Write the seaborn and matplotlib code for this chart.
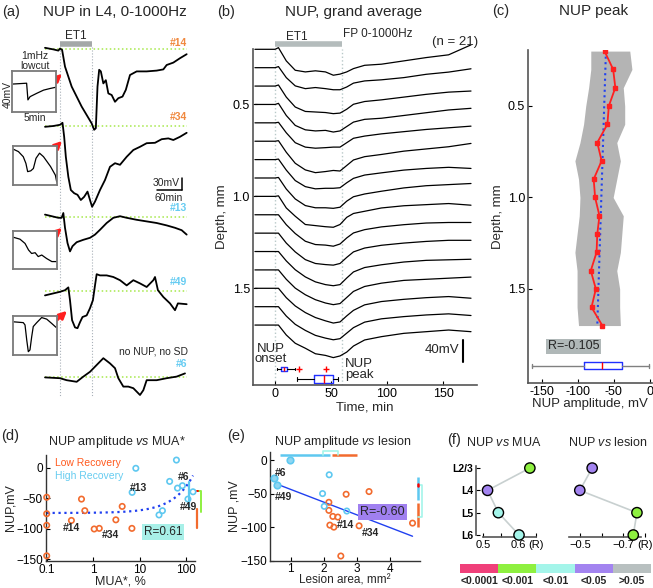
import numpy as np
import pandas as pd
import seaborn as sns
import matplotlib.pyplot as plt

sns.set_style('ticks')
plt.rcParams['font.family'] = ['Liberation Sans', 'DejaVu Sans']
plt.rcParams['mathtext.fontset'] = 'custom'
plt.rcParams['mathtext.rm'] = 'Liberation Sans'
plt.rcParams['mathtext.it'] = 'Liberation Sans:italic'

# ---------------- data ----------------
# (a) single experiments, time in min, potential in mV (relative to baseline)
a14_t = [-36, -16, -4, 0, 5, 12, 20, 28, 40, 52, 64, 76, 82, 86, 90, 94, 98, 104, 110, 116,
         124, 132, 140, 150, 158, 168, 184, 208, 232, 248, 256, 272, 288, 304]
a14_v = [3, -1, -4, 1, -2, -44, -69, -94, -119, -144, -165, -186, -202, -198, -94, -52, -56, -86, -78, -111,
         -115, -132, -123, -119, -102, -65, -56, -56, -54, -51, -40, -34, -23, -13]
a34_t = [-36, -16, 0, 6, 10, 14, 20, 26, 34, 42, 50, 58, 66, 72, 77, 84, 96, 108, 120, 132,
         144, 160, 176, 192, 208, 228, 244, 260, 272, 288, 304]
a34_v = [-2, 0, 3, 8, -27, -77, -127, -160, -168, -172, -185, -177, -164, -185, -202, -189, -160, -135, -102, -93,
         -97, -77, -60, -52, -43, -42, -33, -31, -35, -27, -17]
a13_t = [-36, -20, -4, 4, 8, 12, 18, 24, 30, 40, 56, 72, 84, 96, 112, 128, 144, 160, 184, 208,
         232, 256, 276, 292, 304]
a13_v = [6, 2, -2, -2, 10, -27, -65, -86, -73, -63, -57, -52, -44, -32, -15, -2, 2, -2, -7, -11,
         -15, -21, -27, -33, -44]
a49_t = [-36, -16, 0, 12, 20, 24, 29, 36, 42, 48, 54, 64, 72, 79, 84, 88, 96, 112, 128, 144,
         160, 176, 192, 208, 224, 228, 235, 248, 264, 276, 283, 304]
a49_v = [-11, -6, -2, 2, 9, -23, -73, -91, -93, -78, -65, -61, -43, -23, 14, 42, 39, 39, 35, 27,
         14, 27, 19, 10, 27, 35, 2, -15, -31, -48, -31, -33]
a6_t = [-36, 0, 16, 40, 56, 72, 88, 104, 120, 132, 140, 152, 164, 176, 192, 200, 208, 232, 256, 280, 300]
a6_v = [-1, -3, -8, -12, 1, 13, 30, 47, 34, 22, -3, -24, -24, -28, -45, -33, -8, -8, -3, 1, 9]
a_labels = ['#14', '#34', '#13', '#49', '#6']
a_recovery = ['low', 'low', 'high', 'high', 'high']
a_et1 = [0, 77.5]

# (a) insets, 1 mHz low-cut, 5 min x 40 mV boxes
in1_t = [0.1, 1.65, 1.8, 2.05, 2.8, 3.6, 4.35, 5.0]
in1_v = [7.2, 8, -8.4, -5.2, -2, 1.2, 2.8, 4]
in2_t = [0.08, 0.65, 1.2, 1.5, 1.7, 2.05, 2.35, 2.65, 3.05, 3.5, 4.3, 4.85, 5.0]
in2_v = [16.4, 14, 8.8, 2, -6.4, -5.6, -3.2, 7.2, 12.4, 8.8, -1.2, -10, -16.8]
in3_t = [0.08, 0.83, 1.4, 1.8, 2.15, 2.55, 2.9, 3.3, 3.85, 4.45, 5.0]
in3_v = [13.2, 11.2, 6.8, 0, -3.6, -2.8, -6.8, -5.2, -8.8, -12, -12]
in4_t = [0.08, 1.15, 1.35, 1.55, 1.73, 1.92, 2.12, 2.3, 2.7, 3.27, 3.85, 4.42, 4.92]
in4_v = [14, 13.2, 10.8, -4.8, -16.6, -14.8, -1.2, 9.2, 13.2, 18.4, 16.8, 12.4, 8.4]

# (b) grand average FP at 16 depths (mV)
b_time = [-18, 0, 3, 10, 18, 27, 36, 45, 52, 58, 64, 70, 80, 95, 115, 135, 155, 175]
b_depths = [0.2, 0.3, 0.4, 0.5, 0.6, 0.7, 0.8, 0.9, 1.0, 1.1, 1.2, 1.3, 1.4, 1.5, 1.6, 1.7]
b_traces = [
    [0, 0, 3, -21, -38, -41, -39, -41, -47, -45, -41, -35, -29, -27, -21, -15, -10, 8],
    [0, 0, 2, -18, -33, -38, -36, -38, -40, -40, -35, -28, -24, -22, -18, -12, -8, -2],
    [0, 0, 2, -20, -38, -46, -47, -48, -50, -49, -42, -33, -28, -25, -20, -15, -11, -9],
    [0, 0, 2, -20, -38, -46, -48, -47, -50, -48, -40, -32, -27, -25, -20, -15, -10, -7],
    [0, 0, 1, -18, -36, -44, -46, -45, -44, -44, -36, -28, -24, -20, -16, -12, -9, -6],
    [0, 0, 1, -20, -40, -52, -57, -55, -53, -54, -44, -34, -28, -24, -18, -14, -10, -4],
    [0, 0, 1, -19, -38, -49, -53, -52, -52, -51, -42, -34, -28, -24, -19, -16, -14, -16],
    [0, 0, 1, -20, -38, -50, -54, -54, -55, -53, -42, -34, -29, -24, -18, -14, -12, -10],
    [0, 0, 1, -21, -36, -51, -53, -55, -56, -51, -38, -31, -27, -21, -17, -15, -13, -16],
    [0, 0, 0, -18, -34, -48, -54, -55, -57, -53, -42, -33, -27, -22, -18, -15, -14, -14],
    [0, 0, 0, -18, -34, -48, -55, -57, -58, -55, -44, -34, -27, -22, -18, -15, -13, -13],
    [0, 0, 0, -17, -33, -46, -55, -60, -62, -60, -48, -37, -29, -24, -19, -16, -15, -14],
    [0, 0, 0, -17, -33, -45, -54, -60, -63, -61, -50, -39, -30, -24, -19, -17, -15, -13],
    [0, 0, 0, -17, -32, -44, -53, -59, -63, -61, -50, -40, -30, -24, -20, -17, -15, -18],
    [0, 0, 0, -17, -32, -43, -52, -57, -60, -58, -48, -38, -28, -22, -18, -15, -13, -16],
    [0, 0, 0, -18, -33, -42, -52, -55, -59, -56, -49, -38, -27, -21, -15, -12, -9, -12],
]
b_onset = dict(whislo=2, q1=5.4, med=8, q3=11, whishi=18, fliers=[21, 45.5])
b_peak = dict(whislo=19.3, q1=35, med=43.8, q3=52, whishi=56.5, fliers=[])

# (c) NUP peak amplitude vs depth
c_peak = [-63, -51, -48, -57, -59, -73, -67, -78, -76, -70, -73, -74, -82, -75, -81, -66]
c_lower = [-82, -82, -85, -89, -92, -97, -104, -99, -97, -98, -101, -104, -101, -101, -101, -99]
c_upper = [-28, -25, -37, -35, -35, -46, -41, -46, -51, -37, -39, -41, -46, -42, -42, -41]
c_fit = [-61, -73]
c_box = dict(whislo=-163, q1=-92, med=-67, q3=-39, whishi=-1, fliers=[])

# (d) NUP amplitude vs MUA*
d_low_mua = [0.1, 0.56, 0.66, 0.1, 4.2, 0.34, 0.1, 1.05, 1.35, 3.07, 6.8, 0.1]
d_low_nup = [-48, -51, -70, -75, -63, -86, -94, -100, -99, -85, -99, -144]
d_high_mua = [8.25, 61.6, 44, 64.9, 82.8, 6.87, 109, 140, 30.8, 26]
d_high_nup = [-0.5, 13, -22, -33, -29, -40, -51, -39, -70, -77]

# (e) NUP amplitude vs lesion area
e_low_area = [2.15, 2.67, 3.36, 2.15, 2.27, 2.42, 2.18, 2.30, 3.06, 2.51, 4.67]
e_low_nup = [-63, -51, -47, -75, -84, -85, -97, -100, -98, -143, -94]
e_high_area = [0.50, 0.58, 0.98, 2.16, 1.96, 2.01, 2.69]
e_high_nup = [-27, -37, 0, -22, -50, -69, -76]
e_high_filled = [True, True, True, False, False, False, False]

# (f) layer-wise correlations
f_layers = ['L2/3', 'L4', 'L5', 'L6']
f_mua_r = [0.633, 0.512, 0.543, 0.602]
f_mua_p = ['<0.001', '<0.05', '<0.01', '<0.01']
f_les_r = [-0.557, -0.50, -0.763, -0.746]
f_les_p = ['<0.05', '<0.05', '<0.001', '<0.001']
p_classes = ['<0.0001', '<0.001', '<0.01', '<0.05', '>0.05']

# ---------------- style ----------------
W, H = 653, 588
ORANGE = '#f26b2e'
CYAN = '#5ec8f0'
FIT_BLUE = '#2040f0'
P_COLORS = {'<0.0001': '#f0407a', '<0.001': '#8ef040', '<0.01': '#a4f5ea',
            '<0.05': '#a384f0', '>0.05': '#b8c0c0'}
A_MIN_PER_PX = 2.4
A_MV_PER_PX = 2.5
B_MM_PER_MV = 0.003

fig = plt.figure(figsize=(W / 100, H / 100), dpi=100)


def px_axes(x0, y0, x1, y1):
    return fig.add_axes([x0 / W, 1 - y1 / H, (x1 - x0) / W, (y1 - y0) / H])


def ftext(x, y, s, **kw):
    kw.setdefault('ha', 'center')
    kw.setdefault('va', 'center')
    fig.text(x / W, 1 - y / H, s, **kw)


def style_axes(ax, color='#555555', lw=1.2):
    sns.despine(ax=ax)
    for side in ['left', 'bottom']:
        ax.spines[side].set_color(color)
        ax.spines[side].set_linewidth(lw)
    ax.tick_params(direction='in', length=3, width=0.8, labelsize=8, pad=2, colors='black')
    ax.set_facecolor('none')


# ---------------- (a) ----------------
ftext(2, 12, '(a)', fontsize=10.5, ha='left')
ftext(115, 12, 'NUP in L4, 0-1000Hz', fontsize=11)
ax_a = px_axes(40, 30, 195, 405)
ax_a.set_xlim(-20 * A_MIN_PER_PX, 135 * A_MIN_PER_PX)
ax_a.set_ylim(-405 * A_MV_PER_PX, -30 * A_MV_PER_PX)
ax_a.axis('off')

a_base_px = [49, 126, 217, 291, 377]
a_label_px = [43, 117, 208, 282, 364]
a_series = [(a14_t, a14_v), (a34_t, a34_v), (a13_t, a13_v), (a49_t, a49_v), (a6_t, a6_v)]
for (t, v), base, lab, rec, ly in zip(a_series, a_base_px, a_labels, a_recovery, a_label_px):
    off = -base * A_MV_PER_PX
    ax_a.plot([-36, 304], [off, off], color='#a6e84a', ls=':', lw=1.1, zorder=1)
    ax_a.plot(t, np.array(v) + off, color='black', lw=1.3, zorder=3)
    ftext(187, ly, lab, fontsize=7.5, weight='bold', ha='right',
          color='#f0883e' if rec == 'low' else '#66ccf2')
ftext(188, 352, 'no NUP, no SD', fontsize=7.5, ha='right')

for x in a_et1:
    ax_a.plot([x, x], [-47 * A_MV_PER_PX, -397 * A_MV_PER_PX], color='#a8b0b8', ls=':', lw=0.8, zorder=0)
ax_a.plot(a_et1, [-44 * A_MV_PER_PX] * 2, color='#a4a8a8', lw=4, solid_capstyle='butt')
ftext(76, 36, 'ET1', fontsize=8.5)

# scale bars 30 mV / 60 min
sb_x = (182 - 60) * A_MIN_PER_PX
sb_y = -190 * A_MV_PER_PX
ax_a.plot([sb_x, sb_x], [sb_y, sb_y + 30], color='black', lw=1.1)
ax_a.plot([sb_x - 60, sb_x], [sb_y, sb_y], color='black', lw=1.1)
ftext(180, 183, '30mV', fontsize=7.5, ha='right')
ftext(169, 198, '60min', fontsize=7.5)

# insets
inset_boxes = [(12.3, 71, 55.7, 111.7), (12.7, 145.7, 56.7, 185), (12.7, 230.7, 56.7, 269.3), (13.3, 316, 56.7, 355)]
inset_data = [(in1_t, in1_v), (in2_t, in2_v), (in3_t, in3_v), (in4_t, in4_v)]
for (x0, y0, x1, y1), (t, v) in zip(inset_boxes, inset_data):
    axi = px_axes(x0, y0, x1, y1)
    axi.plot(t, v, color='black', lw=0.9)
    axi.set_xlim(0, 5)
    axi.set_ylim(-20, 20)
    axi.set_xticks([])
    axi.set_yticks([])
    for sp in axi.spines.values():
        sp.set_visible(True)
        sp.set_color('#7a7a7a')
        sp.set_linewidth(1.3)
ftext(35, 61, '1mHz\nlowcut', fontsize=7.5, linespacing=0.95)
ftext(8, 95, '40mV', fontsize=7.5, rotation=90)
ftext(35, 118, '5min', fontsize=7.5)

a_arrows = [((51, 84), (64, 72)), ((51, 152), (64, 139)), ((51, 238), (64, 226)), ((55, 322), (69, 309))]
for (x0, y0), (x1, y1) in a_arrows:
    ax_a.annotate('', xy=(x1, H - y1), xytext=(x0, H - y0), xycoords='figure pixels',
                  textcoords='figure pixels',
                  arrowprops=dict(arrowstyle='-|>', color='#ff2020', lw=2.0, mutation_scale=11))

# ---------------- (b) ----------------
ftext(217, 12, '(b)', fontsize=10.5, ha='left')
ftext(354, 12, 'NUP, grand average', fontsize=11)
ax_b = px_axes(252.7, 49.3, 476.6, 385)
for depth, vals in zip(b_depths, b_traces):
    ax_b.plot(b_time, depth - np.array(vals) * B_MM_PER_MV, color='black', lw=0.9, clip_on=False)
for x in [0, 60]:
    ax_b.axvline(x, color='#b8c8c8', ls=':', lw=1.0, zorder=0)
ax_b.plot([0, 60], [0.172, 0.172], color='#b4bcbc', lw=4, solid_capstyle='butt', clip_on=False)
ax_b.text(19.6, 0.134, 'ET1', fontsize=8.5, ha='center', va='center')
ax_b.text(61, 0.118, 'FP 0-1000Hz', fontsize=8.5, ha='left', va='center')
ax_b.text(140, 0.161, '(n = 21)', fontsize=9.5, ha='left', va='center')
ax_b.plot([168, 168], [1.78, 1.78 + 40 * B_MM_PER_MV], color='black', lw=1.5)
ax_b.text(165, 1.838, '40mV', fontsize=9.5, ha='right', va='center')
for stats, pos, w in [(b_onset, 1.939, 0.027), (b_peak, 1.993, 0.04)]:
    ax_b.bxp([stats], positions=[pos], widths=w, orientation='horizontal', manage_ticks=False,
             boxprops=dict(color='#2030ff', lw=1), medianprops=dict(color='red', lw=1),
             whiskerprops=dict(color='black', lw=0.8), capprops=dict(color='black', lw=0.8),
             flierprops=dict(marker='+', markeredgecolor='red', markersize=4, lw=0))
ax_b.text(-3.5, 1.857, 'NUP\nonset', fontsize=9.5, ha='center', va='center', linespacing=0.85)
ax_b.text(62.5, 1.94, 'NUP\npeak', fontsize=9.5, ha='left', va='center', linespacing=0.85)
ax_b.set_xlim(-20, 180)
ax_b.set_ylim(2.026, 0.2)
style_axes(ax_b)
ax_b.set_xticks([0, 50, 100, 150])
ax_b.set_yticks([0.5, 1.0, 1.5])
ax_b.set_yticklabels(['0.5', '1.0', '1.5'])
ax_b.tick_params(labelsize=9)
ax_b.set_xlabel('Time, min', fontsize=9.5, labelpad=1)
ax_b.set_ylabel('Depth, mm', fontsize=9.5, labelpad=3)

# ---------------- (c) ----------------
ftext(492, 11, '(c)', fontsize=10.5, ha='left')
ftext(594, 11, 'NUP peak', fontsize=11)
ax_c = px_axes(528, 50, 651.7, 383)
ax_c.fill_betweenx(b_depths, c_lower, c_upper, color='#b4b4b4', lw=0)
ax_c.plot(c_fit, [b_depths[0], b_depths[-1]], ls=':', color=FIT_BLUE, lw=1.5, zorder=3)
ax_c.plot(c_peak, b_depths, color='#ff2020', lw=1.3, marker='s', markersize=3.5, zorder=4)
ax_c.bxp([c_box], positions=[1.92], widths=0.038, orientation='horizontal', manage_ticks=False,
         boxprops=dict(color='#2030ff', lw=1), medianprops=dict(color='red', lw=1),
         whiskerprops=dict(color='#808080', lw=1), capprops=dict(color='#808080', lw=1))
ax_c.text(-106, 1.814, 'R=-0.105', fontsize=9, ha='center', va='center',
          bbox=dict(boxstyle='square,pad=0.15', fc='#b0b8b8', ec='none'))
ax_c.set_xlim(-169, 2.4)
ax_c.set_ylim(2.014, 0.194)
style_axes(ax_c)
ax_c.set_xticks([-150, -100, -50, 0])
ax_c.set_xticklabels(['-150', '-100', '-50', '0'])
ax_c.set_yticks([0.5, 1.0, 1.5])
ax_c.set_yticklabels(['0.5', '1.0', '1.5'])
ax_c.tick_params(labelsize=9)
ax_c.set_xlabel('NUP amplitude, mV', fontsize=9.5, labelpad=0)
ax_c.set_ylabel('Depth, mm', fontsize=9.5, labelpad=3)

# ---------------- (d) ----------------
ftext(1, 436, '(d)', fontsize=10.5, ha='left')
ftext(117, 442, r'NUP amplitude $\it{vs}$ MUA*', fontsize=9)
ax_d = px_axes(45.7, 455, 195, 561)
d_df = pd.DataFrame({'mua': d_low_mua + d_high_mua, 'nup': d_low_nup + d_high_nup,
                     'group': ['low'] * len(d_low_mua) + ['high'] * len(d_high_mua)})
for grp, col in [('low', ORANGE), ('high', CYAN)]:
    sns.scatterplot(data=d_df[d_df.group == grp], x='mua', y='nup', ax=ax_d, marker='o', s=15,
                    color=col, facecolor='none', edgecolor=col, linewidth=1.2, legend=False,
                    clip_on=False, zorder=3)
ax_d.set_xscale('log')
coef = np.polyfit(d_df.mua, d_df.nup, 1)
xs = np.geomspace(0.1, d_df.mua.max(), 120)
ax_d.plot(xs, np.polyval(coef, xs), ls=':', color=FIT_BLUE, lw=1.6, zorder=2)
ax_d.plot([113, 113], [-23, -64], color=CYAN, lw=1.6, clip_on=False)
ax_d.plot([168, 168], [-67, -98], color=ORANGE, lw=1.6, clip_on=False)
ax_d.plot([168, 205, 205], [-38, -38, -72], color='#8ef040', lw=1.4, clip_on=False)
ax_d.plot([168, 176], [-38, -38], color='red', lw=1.4, clip_on=False)
ax_d.text(0.151, 8, 'Low Recovery', color='#ff5a1e', fontsize=7.5, va='center')
ax_d.text(0.151, -13, 'High Recovery', color='#66ccf0', fontsize=7.5, va='center')
for s, x, y in [('#13', 6.2, -33), ('#6', 65.7, -15), ('#49', 72.6, -64), ('#14', 0.224, -98), ('#34', 1.54, -110)]:
    ax_d.text(x, y, s, fontsize=7.5, weight='bold', va='center')
ax_d.text(12.2, -105, 'R=0.61', fontsize=8.5, va='center',
          bbox=dict(boxstyle='square,pad=0.15', fc='#a8f0e8', ec='none'))
ax_d.set_xlim(0.0952, 154.5)
ax_d.set_ylim(-152.5, 21.3)
style_axes(ax_d, color='#333333', lw=1.0)
ax_d.set_xticks([0.1, 1, 10, 100])
ax_d.set_xticklabels(['0.1', '1', '10', '100'])
ax_d.minorticks_off()
ax_d.set_yticks([0, -50, -100, -150])
ax_d.set_yticklabels(['0', '\u221250', '\u2212100', '\u2212150'])
ax_d.tick_params(labelsize=8.5)
ax_d.set_xlabel('MUA*, %', fontsize=9, labelpad=0)
ax_d.set_ylabel('NUP,mV', fontsize=9, labelpad=0)

# ---------------- (e) ----------------
ftext(227, 436, '(e)', fontsize=10.5, ha='left')
ftext(343, 442, r'NUP amplitude $\it{vs}$ lesion', fontsize=9)
ax_e = px_axes(270, 451.7, 420, 560.7)
e_df = pd.DataFrame({'area': e_low_area + e_high_area, 'nup': e_low_nup + e_high_nup})
coef_e = np.polyfit(e_df.area, e_df.nup, 1)
xe = np.linspace(e_df.area.min() + 0.08, e_df.area.max(), 50)
ax_e.plot(xe, np.polyval(coef_e, xe), color=FIT_BLUE, lw=1.0, zorder=2)
sns.scatterplot(x=e_low_area, y=e_low_nup, ax=ax_e, marker='o', s=15, color=ORANGE,
                facecolor='none', edgecolor=ORANGE, linewidth=1.2, legend=False, zorder=3)
hf = pd.DataFrame({'area': e_high_area, 'nup': e_high_nup, 'filled': e_high_filled})
sns.scatterplot(data=hf[~hf.filled], x='area', y='nup', ax=ax_e, marker='o', s=15, color=CYAN,
                facecolor='none', edgecolor=CYAN, linewidth=1.2, legend=False, zorder=3)
sns.scatterplot(data=hf[hf.filled], x='area', y='nup', ax=ax_e, marker='o', s=22, color='#8fd6f2',
                edgecolor=CYAN, linewidth=1.2, legend=False, zorder=3)
ax_e.plot([0.68, 2.18], [7.5, 7.5], color=CYAN, lw=1.8, clip_on=False, solid_capstyle='butt')
ax_e.plot([2.23, 2.99], [7.5, 7.5], color=ORANGE, lw=1.8, clip_on=False, solid_capstyle='butt')
ax_e.plot([1.96, 1.96, 2.43, 2.43], [7.5, 13, 13, 7.5], color='#a4f5ea', lw=1.2, clip_on=False)
ax_e.plot([4.83, 4.83], [-25, -60], color=CYAN, lw=1.8, clip_on=False, solid_capstyle='butt')
ax_e.plot([4.83, 4.83], [-64, -100], color=ORANGE, lw=1.8, clip_on=False, solid_capstyle='butt')
ax_e.plot([4.83, 4.97, 4.97, 4.83], [-37, -37, -85, -85], color='#a4f5ea', lw=1.2, clip_on=False)
ax_e.plot([4.83, 4.83], [-35, -39], color='red', lw=1.8, clip_on=False)
for s, x, y in [('#6', 0.527, -19), ('#49', 0.527, -55), ('#14', 2.39, -97), ('#34', 3.15, -109)]:
    ax_e.text(x, y, s, fontsize=7.5, weight='bold', va='center')
ax_e.text(3.09, -78, 'R=-0.60', fontsize=9, va='center',
          bbox=dict(boxstyle='square,pad=0.15', fc='#a080f0', ec='none'))
ax_e.set_xlim(0.377, 4.895)
ax_e.set_ylim(-150, 12.4)
style_axes(ax_e, color='#333333', lw=1.0)
ax_e.set_xticks([1, 2, 3, 4])
ax_e.set_yticks([0, -50, -100, -150])
ax_e.set_yticklabels(['0', '\u221250', '\u2212100', '\u2212150'])
ax_e.tick_params(labelsize=8.5)
ax_e.set_xlabel('Lesion area, mm\u00b2', fontsize=8.5, labelpad=-1)
ax_e.set_ylabel('NUP ,mV', fontsize=9, labelpad=0)

# ---------------- (f) ----------------
ftext(447, 440, '(f)', fontsize=10.5, ha='left')
ftext(504, 442, r'NUP $\it{vs}$ MUA', fontsize=9)
ftext(608, 442, r'NUP $\it{vs}$ lesion', fontsize=9)


def draw_f(ax, r_vals, p_vals):
    ypos = np.arange(len(f_layers))
    ax.plot(r_vals, ypos, color='#c8d0d0', lw=1.2, zorder=1)
    df = pd.DataFrame({'r': r_vals, 'layer': ypos, 'p': p_vals})
    sns.scatterplot(data=df, x='r', y='layer', hue='p', palette=P_COLORS, s=55, edgecolor='black',
                    linewidth=1.0, ax=ax, legend=False, zorder=3, clip_on=False)
    ax.set_ylim(3.09, -0.45)
    ax.set_xlabel('')
    ax.set_ylabel('')
    style_axes(ax, color='#555555', lw=1.2)
    ax.tick_params(labelsize=8)


ax_f1 = px_axes(476, 458, 540, 537)
draw_f(ax_f1, f_mua_r, f_mua_p)
ax_f1.set_xlim(0.479, 0.662)
ax_f1.spines['bottom'].set_bounds(0.5, 0.65)
ax_f1.spines['left'].set_bounds(-0.1, 3)
ax_f1.set_xticks([0.5, 0.55, 0.6, 0.65])
ax_f1.set_xticklabels(['0.5', '', '0.6', '(R)'])
ax_f1.set_yticks(range(len(f_layers)))
ax_f1.set_yticklabels(f_layers, fontsize=7.5, weight='bold')

ax_f2 = px_axes(570, 458, 645, 537)
draw_f(ax_f2, f_les_r, f_les_p)
ax_f2.set_xlim(-0.455, -0.80)
ax_f2.spines['left'].set_visible(False)
ax_f2.spines['bottom'].set_bounds(-0.45, -0.78)
ax_f2.set_yticks([])
ax_f2.set_xticks([-0.5, -0.6, -0.7, -0.8])
ax_f2.set_xticklabels(['\u22120.5', '', '\u22120.7', '(R)'])

ax_cb = px_axes(460, 564, 651, 573)
for i, cls in enumerate(p_classes):
    ax_cb.barh(0, 1, left=i, height=1, color=P_COLORS[cls], lw=0)
    ftext(460 + (i + 0.5) * 38.2, 581, cls, fontsize=7.5, weight='bold')
ax_cb.set_xlim(0, 5)
ax_cb.set_ylim(-0.5, 0.5)
ax_cb.axis('off')

fig.savefig('out.png', dpi=100)
